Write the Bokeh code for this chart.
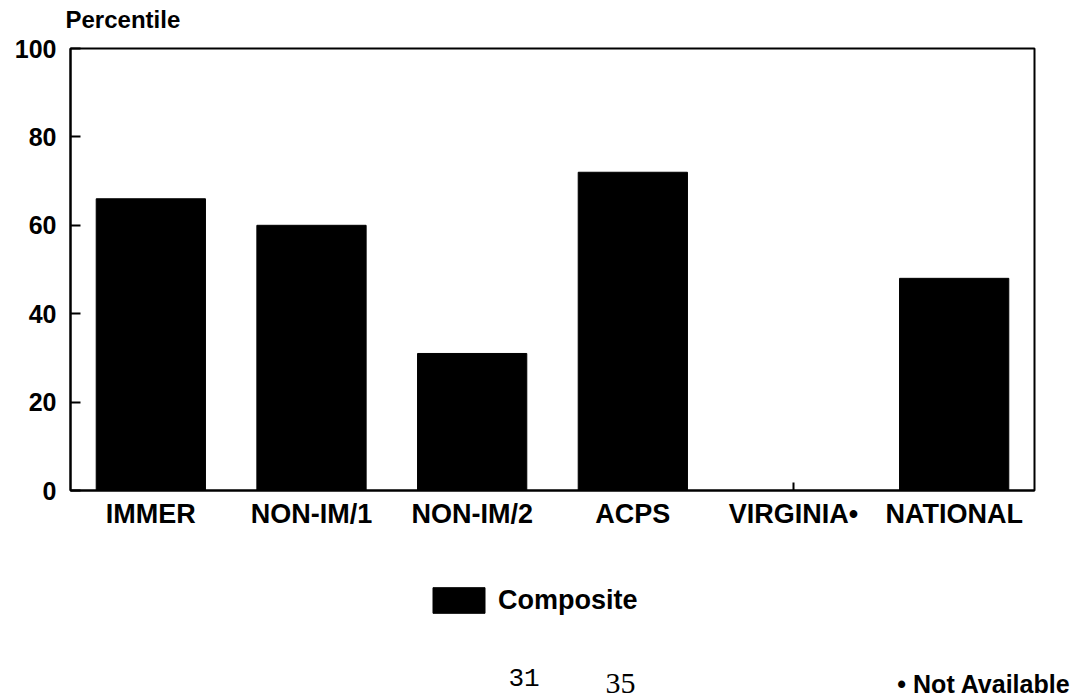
from bokeh.plotting import figure
from bokeh.models import (FactorRange, Range1d, Label, Legend, LegendItem,
                          ColumnDataSource)
from bokeh.embed import file_html
from bokeh.resources import INLINE

categories = ["IMMER", "NON-IM/1", "NON-IM/2", "ACPS", "VIRGINIA\u2022", "NATIONAL"]
composite = [66, 60, 31, 72, float("nan"), 48]
y_ticks = [0, 20, 40, 60, 80, 100]
y_title = "Percentile"
series_name = "Composite"
footnote = "\u2022 Not Available"
page_no = "31"
page_no2 = "35"

FONT = "Liberation Sans"
W = 1075
TH = 36           # header height (axis title)
MH = 560 - TH     # main chart height
FH = 699 - TH - MH  # footer height
TXT_SHIFT = 10    # measured baseline offset of Label text in these strips


def strip(height):
    s = figure(width=W, height=height, x_range=Range1d(0, W), y_range=Range1d(height, 0),
               output_backend="svg", toolbar_location=None,
               x_axis_location=None, y_axis_location=None,
               min_border=0, min_border_left=0, min_border_right=0,
               min_border_top=0, min_border_bottom=0)
    s.outline_line_color = None
    s.grid.visible = False
    s.background_fill_color = "white"
    s.border_fill_color = "white"
    return s


# header strip with the y-axis title
h = strip(TH)
h.add_layout(Label(x=65, y=29 - TXT_SHIFT, text=y_title, text_font=FONT,
                   text_font_style="bold", text_font_size="24px",
                   text_color="black", text_baseline="alphabetic"))

# main chart
p = figure(
    width=W, height=MH,
    x_range=FactorRange(*categories, range_padding=0),
    y_range=Range1d(0, 100),
    output_backend="svg", toolbar_location=None,
    min_border_left=70, min_border_right=41, min_border_top=48 - TH, min_border_bottom=70,
)
p.background_fill_color = "white"
p.border_fill_color = "white"
p.outline_line_color = "black"
p.outline_line_width = 2
p.grid.visible = False

src = ColumnDataSource(dict(cat=categories, val=composite))
p.vbar(x="cat", top="val", width=0.68, source=src, fill_color="black", line_color="black")

p.yaxis.ticker = y_ticks
p.yaxis.major_tick_in = 10
p.yaxis.major_tick_out = 0
p.yaxis.minor_tick_line_color = None
p.yaxis.axis_line_color = "black"
p.yaxis.axis_line_width = 2
p.yaxis.major_tick_line_width = 2
p.yaxis.major_label_text_font = FONT
p.yaxis.major_label_text_font_style = "bold"
p.yaxis.major_label_text_font_size = "25px"
p.yaxis.major_label_text_color = "black"
p.yaxis.major_label_standoff = 14

p.xaxis.major_tick_in = 8
p.xaxis.major_tick_out = 0
p.xaxis.axis_line_color = "black"
p.xaxis.axis_line_width = 2
p.xaxis.major_tick_line_width = 2
p.xaxis.major_label_text_font = FONT
p.xaxis.major_label_text_font_style = "bold"
p.xaxis.major_label_text_font_size = "27px"
p.xaxis.major_label_text_color = "black"
p.xaxis.major_label_standoff = 8

# footer strip: legend, page numbers and footnote
f = strip(FH)
top0 = TH + MH  # page y where the footer starts

nan = float("nan")
leg_src = ColumnDataSource(dict(x=[nan], top=[nan]))
lr = f.vbar(x="x", top="top", width=1, source=leg_src, fill_color="black", line_color="black")
legend = Legend(items=[LegendItem(label=series_name, renderers=[lr])],
                location=(426, FH - (616 - top0)), orientation="horizontal",
                glyph_width=65, glyph_height=32, label_standoff=7,
                padding=0, margin=0, border_line_alpha=0, background_fill_alpha=0,
                label_text_font=FONT, label_text_font_style="bold",
                label_text_font_size="27px", label_text_color="black")
f.add_layout(legend, "center")

f.add_layout(Label(x=508, y=687 - TXT_SHIFT - top0, text=page_no, text_font="Liberation Mono",
                   text_font_size="26px", text_color="black", text_baseline="alphabetic"))
f.add_layout(Label(x=605, y=693 - TXT_SHIFT - top0, text=page_no2, text_font="Liberation Serif",
                   text_font_size="30px", text_color="black", text_baseline="alphabetic"))
f.add_layout(Label(x=1070, y=693 - TXT_SHIFT - top0, text=footnote, text_font=FONT,
                   text_font_style="bold", text_font_size="25px", text_align="right",
                   text_color="black", text_baseline="alphabetic"))

open("out.html", "w").write(file_html([h, p, f], INLINE))
